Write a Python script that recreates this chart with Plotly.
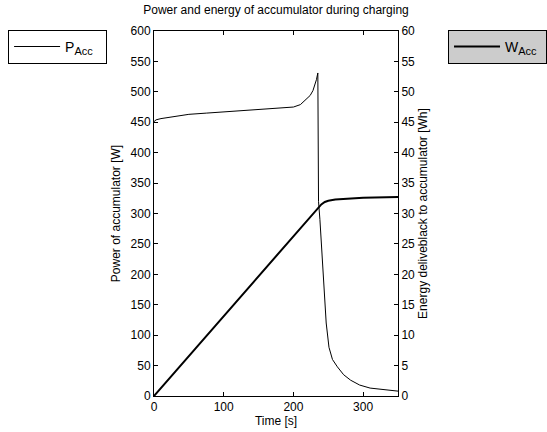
import plotly.graph_objects as go

# ---- data ----
t_power = [0, 3, 10, 25, 50, 75, 100, 137, 170, 200, 210, 218, 224, 228, 231, 233, 235,
           236, 238, 241, 244, 247, 251, 256, 263, 272, 282, 295, 310, 330, 350]
p_acc = [451, 454, 456, 459, 463, 465, 467, 470, 472, 475, 479, 487, 494, 502, 511, 520, 531,
         320, 290, 230, 165, 120, 80, 60, 48, 35, 26, 18, 13, 10, 8]

t_energy = [0, 120, 237, 240, 245, 250, 260, 280, 300, 350]
w_acc = [0, 15.8, 31.2, 31.5, 31.9, 32.1, 32.3, 32.5, 32.6, 32.7]

x_ticks = [0, 100, 200, 300]
p_ticks = list(range(0, 601, 50))
w_ticks = list(range(0, 61, 5))

FONT = "Liberation Sans, Arial, sans-serif"

fig = go.Figure()
fig.add_trace(go.Scatter(x=t_power, y=p_acc, mode="lines",
                         name="P<sub><span style='font-size:11px'>Acc</span></sub>&nbsp;&nbsp;",
                         line=dict(color="black", width=1), legend="legend"))
fig.add_trace(go.Scatter(x=t_energy, y=w_acc, mode="lines",
                         name="W<sub><span style='font-size:11px'>Acc</span></sub>&nbsp;",
                         line=dict(color="black", width=2), yaxis="y2", legend="legend2"))

axis_common = dict(showgrid=False, zeroline=False, showline=True, linecolor="black",
                   linewidth=1, ticks="inside", ticklen=4, tickcolor="black", automargin=False,
                   tickfont=dict(family=FONT, size=12, color="black"))

fig.update_layout(
    width=547, height=432,
    margin=dict(l=154, r=149, t=31, b=36, autoexpand=False),
    paper_bgcolor="white", plot_bgcolor="white",
    font=dict(family=FONT, size=12, color="black"),
    title=dict(text="Power and energy of accumulator during charging", x=0.5, xanchor="center",
               xref="paper", y=0.978, yref="container", yanchor="middle",
               font=dict(family=FONT, size=12, color="black")),
    xaxis=dict(range=[0, 350], tickvals=x_ticks, mirror="ticks",
               title=dict(text="Time [s]", standoff=1, font=dict(family=FONT, size=12)),
               **axis_common),
    yaxis=dict(range=[0, 600], tickvals=p_ticks,
               title=dict(text="Power of accumulator [W]", standoff=7, font=dict(family=FONT, size=12)),
               **axis_common),
    yaxis2=dict(range=[0, 60], tickvals=w_ticks, overlaying="y", side="right",
                title=dict(text="Energy deliveblack to accumulator [Wh]", standoff=4,
                           font=dict(family=FONT, size=12)),
                **axis_common),
    legend=dict(x=-0.598, y=1.003, xanchor="left", yanchor="top", bgcolor="white",
                bordercolor="black", borderwidth=1, itemwidth=46,
                font=dict(family=FONT, size=14, color="black")),
    legend2=dict(x=1.205, y=1.003, xanchor="left", yanchor="top", bgcolor="#cccccc",
                 bordercolor="black", borderwidth=1, itemwidth=46,
                 font=dict(family=FONT, size=14, color="black")),
    showlegend=True,
)

fig.write_html("out.html", config={"displayModeBar": False},
               post_script="document.body.style.margin='0px';")
